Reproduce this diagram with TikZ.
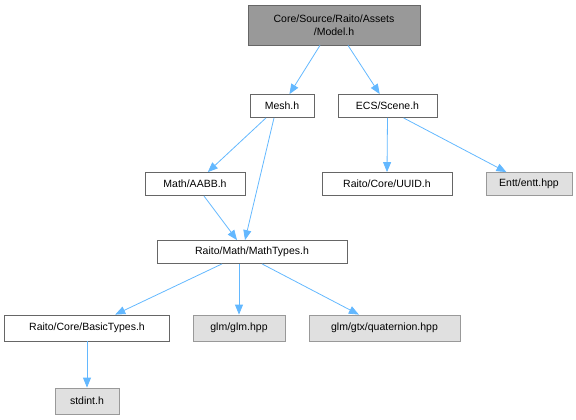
\documentclass[tikz,border=0pt]{standalone}
\usepackage{fontspec}
\setmainfont{Liberation Sans}
\usetikzlibrary{arrows.meta}
\definecolor{edgeblue}{HTML}{63B8FF}
\definecolor{darkbox}{HTML}{999999}
\definecolor{lightbox}{HTML}{E0E0E0}
\definecolor{greyline}{HTML}{666666}
\definecolor{lightline}{HTML}{999999}
\tikzset{
  base/.style={rectangle, draw, line width=0.8pt, inner sep=0pt, font=\fontsize{10.5}{12.5}\selectfont, align=center},
  wbox/.style={base, draw=greyline, fill=white},
  gbox/.style={base, draw=lightline, fill=lightbox},
  mbox/.style={base, draw=greyline, fill=darkbox},
  dep/.style={draw=edgeblue, line width=0.8pt, -{Triangle[length=10pt,width=8pt]}}
}
\begin{document}
\begin{tikzpicture}[x=1pt,y=-1pt]
\useasboundingbox (0,0) rectangle (576,420);
\node[mbox, minimum width=172pt, minimum height=40pt] (model) at (334,25) {Core/Source/Raito/Assets\\/Model.h};
\node[wbox, minimum width=64pt, minimum height=23pt] (mesh) at (282,106) {Mesh.h};
\node[wbox, minimum width=99pt, minimum height=23pt] (scene) at (387.5,106) {ECS/Scene.h};
\node[wbox, minimum width=100pt, minimum height=23pt] (aabb) at (195,184) {Math/AABB.h};
\node[wbox, minimum width=130pt, minimum height=23pt] (uuid) at (387,184) {Raito/Core/UUID.h};
\node[gbox, minimum width=86pt, minimum height=23pt] (entt) at (529,184) {Entt/entt.hpp};
\node[wbox, minimum width=190pt, minimum height=23pt] (mtypes) at (252,252) {Raito/Math/MathTypes.h};
\node[wbox, minimum width=165pt, minimum height=26pt] (btypes) at (87,328) {Raito/Core/BasicTypes.h};
\node[gbox, minimum width=92pt, minimum height=26pt] (glm) at (239,328) {glm/glm.hpp};
\node[gbox, minimum width=151pt, minimum height=26pt] (quat) at (384.5,328) {glm/gtx/quaternion.hpp};
\node[gbox, minimum width=64pt, minimum height=26pt] (stdint) at (87,401) {stdint.h};
\draw[dep] ([xshift=-14pt]model.south) -- (mesh);
\draw[dep] ([xshift=14pt]model.south) -- (scene);
\draw[dep] ([xshift=-16pt]mesh.south) -- (aabb);
\draw[dep] ([xshift=-8pt]mesh.south) -- ([xshift=-7pt]mtypes.north);
\draw[dep] (aabb) -- ([xshift=-15pt]mtypes.north);
\draw[dep] (scene.south) -- (uuid.north);
\draw[dep] ([xshift=16pt]scene.south) -- (entt);
\draw[dep] ([xshift=-30pt]mtypes.south) -- (btypes);
\draw[dep] ([xshift=-13pt]mtypes.south) -- (glm.north);
\draw[dep] ([xshift=10pt]mtypes.south) -- (quat);
\draw[dep] (btypes.south) -- (stdint.north);
\end{tikzpicture}
\end{document}
